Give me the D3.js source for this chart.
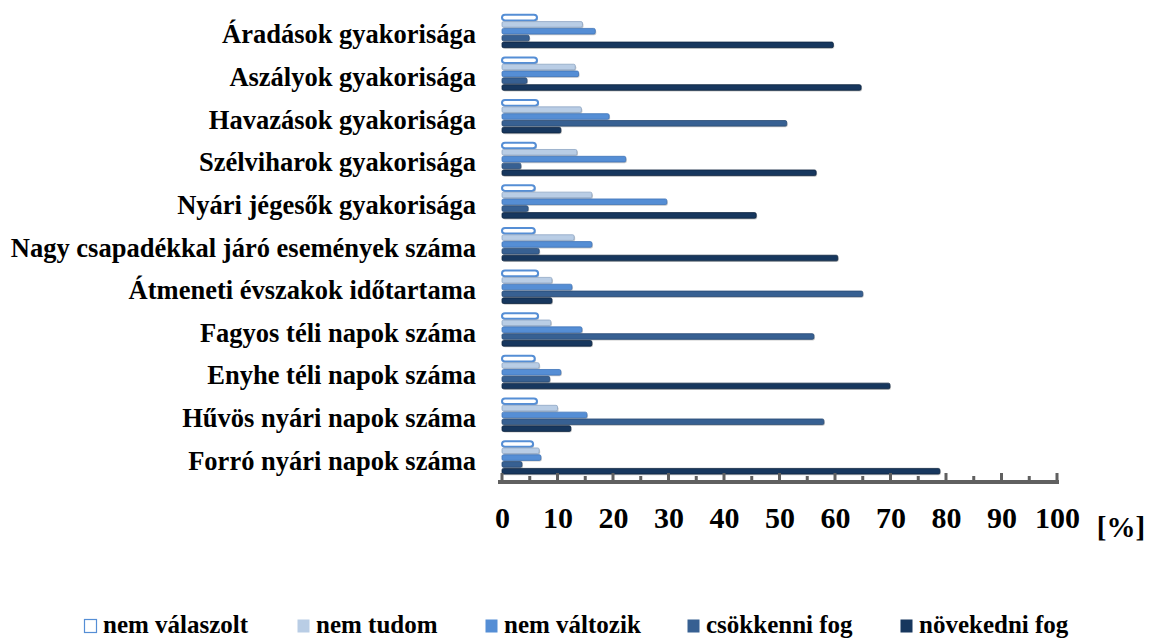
<!DOCTYPE html>
<html>
<head>
<meta charset="utf-8">
<script src="https://cdn.jsdelivr.net/npm/d3@7"></script>
<style>
  body { margin: 0; background: #fff; }
  text { font-family: "Liberation Serif", "Times New Roman", serif; font-weight: bold; fill: #000; }
</style>
</head>
<body>
<div id="chart"></div>
<script>
// categories, top to bottom
const categories = [
    "Áradások gyakorisága",
    "Aszályok gyakorisága",
    "Havazások gyakorisága",
    "Szélviharok gyakorisága",
    "Nyári jégesők gyakorisága",
    "Nagy csapadékkal járó események száma",
    "Átmeneti évszakok időtartama",
    "Fagyos téli napok száma",
    "Enyhe téli napok száma",
    "Hűvös nyári napok száma",
    "Forró nyári napok száma"
];

const seriesNames = ["nem válaszolt", "nem tudom", "nem változik", "csökkenni fog", "növekedni fog"];

const nemValaszolt = [6.3, 6.3, 6.5, 6.1, 5.9, 5.9, 6.5, 6.5, 5.9, 6.3, 5.6];
const nemTudom     = [14.5, 13.2, 14.3, 13.5, 16.2, 13.0, 9.0, 8.8, 6.7, 10.0, 6.7];
const nemValtozik  = [16.8, 13.8, 19.3, 22.3, 29.7, 16.2, 12.6, 14.4, 10.6, 15.3, 7.0];
const csokkenni    = [4.9, 4.5, 51.3, 3.4, 4.7, 6.7, 65.0, 56.2, 8.6, 58.0, 3.6];
const novekedni    = [59.7, 64.7, 10.6, 56.6, 45.8, 60.5, 9.0, 16.2, 69.9, 12.4, 78.9];

const xTicks = [0, 10, 20, 30, 40, 50, 60, 70, 80, 90, 100];

const seriesValues = [nemValaszolt, nemTudom, nemValtozik, csokkenni, novekedni];
const colors = ["#ffffff", "#b9cde5", "#558ed5", "#376092", "#17375e"];
const strokes = ["#558ed5", "#8ea6c4", "#3f74b8", "#284a74", "#0e2440"];

let width = 1153, height = 639;

let svg = d3.select("#chart")
    .append("svg")
    .attr("width", width)
    .attr("height", height);

let x = d3.scaleLinear()
    .domain([0, 100])
    .range([502, 1057]);

let y = d3.scaleBand()
    .domain(categories)
    .range([10, 479])
    .paddingInner(0.2)
    .paddingOuter(0.1);

let ySub = d3.scaleBand()
    .domain(seriesNames)
    .range([0, y.bandwidth()]);

// category labels
svg.append("g")
    .selectAll("text")
    .data(categories)
    .enter()
    .append("text")
    .attr("x", 476)
    .attr("y", function (d) {
        return y(d) + y.bandwidth() / 2 + 12;
    })
    .attr("text-anchor", "end")
    .style("font-size", "26.5px")
    .text(function (d) { return d; });

// bars
let rows = [];
categories.forEach(function (c, i) {
    seriesNames.forEach(function (s, j) {
        rows.push({cat: c, series: s, idx: j, value: seriesValues[j][i]});
    });
});

let bars = svg.append("g");

// soft shadow
bars.selectAll("rect.shadow")
    .data(rows)
    .enter()
    .append("rect")
    .attr("class", "shadow")
    .attr("x", x(0) + 1)
    .attr("y", function (d) { return y(d.cat) + ySub(d.series) + 1.5; })
    .attr("width", function (d) { return x(d.value) - x(0); })
    .attr("height", ySub.bandwidth() - 1)
    .attr("rx", 2)
    .style("fill", "#a6a6a6")
    .style("opacity", 0.6);

bars.selectAll("rect.bar")
    .data(rows)
    .enter()
    .append("rect")
    .attr("class", "bar")
    .attr("x", x(0))
    .attr("y", function (d) { return y(d.cat) + ySub(d.series) + 0.5; })
    .attr("width", function (d) { return x(d.value) - x(0); })
    .attr("height", ySub.bandwidth() - 1.2)
    .attr("rx", function (d) { return d.idx === 0 ? 3 : 1.5; })
    .style("fill", function (d) { return colors[d.idx]; })
    .style("stroke", function (d) { return strokes[d.idx]; })
    .style("stroke-width", function (d) { return d.idx === 0 ? 2 : 0.8; });

// x axis floor
let axisY = 481;
svg.append("rect")
    .attr("x", x(0) - 4)
    .attr("y", axisY - 1)
    .attr("width", x(100) - x(0) + 6)
    .attr("height", 4)
    .style("fill", "#606060");

svg.append("g")
    .selectAll("rect")
    .data(d3.range(0, 101, 5))
    .enter()
    .append("rect")
    .attr("x", function (d) { return x(d) - 1.5; })
    .attr("y", function (d) { return d % 10 === 0 ? axisY - 8 : axisY - 5; })
    .attr("width", 3)
    .attr("height", function (d) { return d % 10 === 0 ? 8 : 5; })
    .style("fill", "#606060");

let xAxis = svg.append("g")
    .attr("transform", "translate(0," + axisY + ")")
    .call(d3.axisBottom(x).tickValues(xTicks).tickSize(0).tickPadding(26).tickFormat(d3.format("d")));
xAxis.select(".domain").remove();
xAxis.selectAll("text")
    .style("font-family", "'Liberation Serif', serif")
    .style("font-weight", "bold")
    .style("font-size", "30px");

svg.append("text")
    .attr("x", 1121)
    .attr("y", 537)
    .attr("text-anchor", "middle")
    .style("font-size", "29px")
    .text("[%]");

// legend
let legendX = [84, 297, 485, 687, 900];
let legend = svg.append("g")
    .selectAll("g")
    .data(seriesNames)
    .enter()
    .append("g")
    .attr("transform", function (d, i) {
        return "translate(" + legendX[i] + ",619)";
    });

legend.append("rect")
    .attr("x", 0.5)
    .attr("y", 0.5)
    .attr("width", 12)
    .attr("height", 13)
    .style("fill", function (d, i) { return colors[i]; })
    .style("stroke", function (d, i) { return i === 0 ? "#558ed5" : "none"; })
    .style("stroke-width", 1.2);

legend.append("text")
    .attr("x", 19)
    .attr("y", 14)
    .style("font-size", "25px")
    .text(function (d) { return d; });
</script>
</body>
</html>
